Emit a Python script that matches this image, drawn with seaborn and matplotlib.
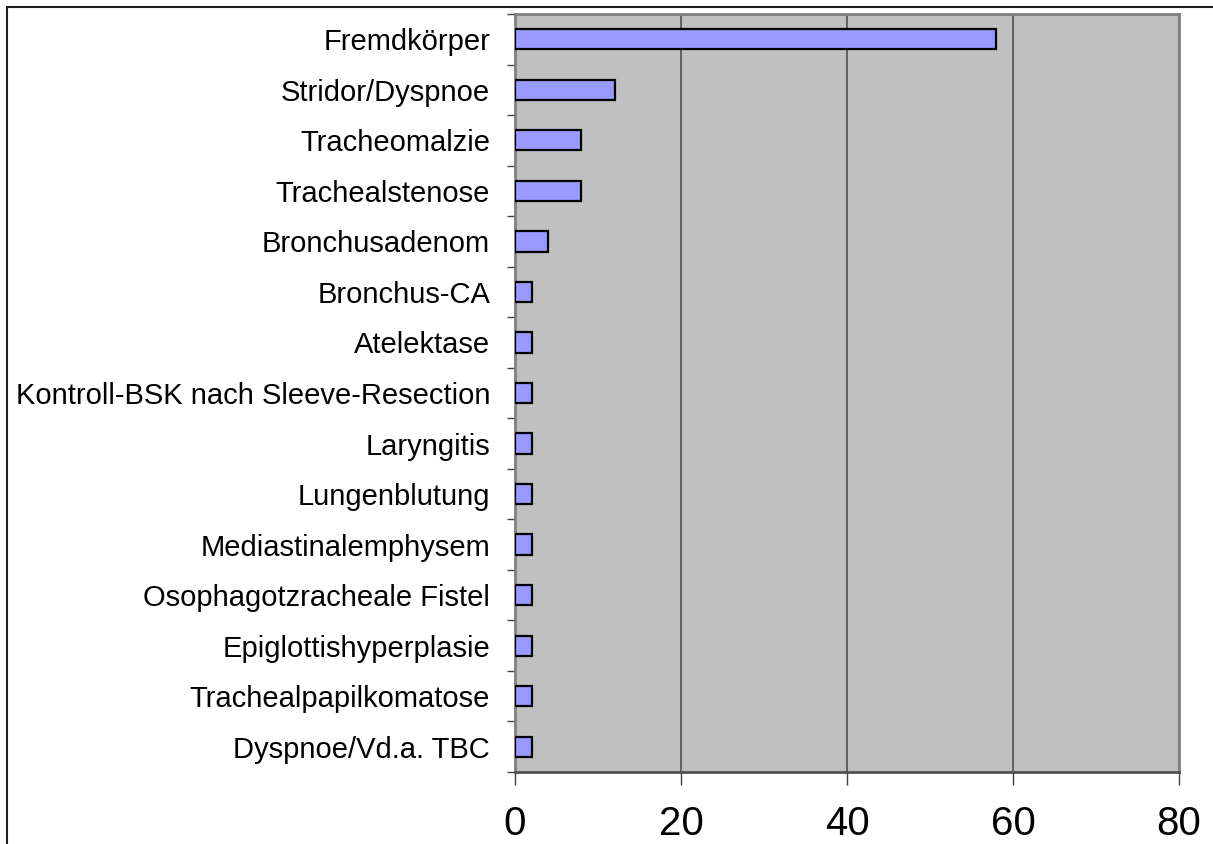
import numpy as np
import pandas as pd
import seaborn as sns
import matplotlib.pyplot as plt
from matplotlib.patches import Rectangle

categories = ['Fremdkörper', 'Stridor/Dyspnoe', 'Tracheomalzie', 'Trachealstenose',
              'Bronchusadenom', 'Bronchus-CA', 'Atelektase',
              'Kontroll-BSK nach Sleeve-Resection', 'Laryngitis', 'Lungenblutung',
              'Mediastinalemphysem', 'Osophagotzracheale Fistel',
              'Epiglottishyperplasie', 'Trachealpapilkomatose', 'Dyspnoe/Vd.a. TBC']
counts = [58, 12, 8, 8, 4, 2, 2, 2, 2, 2, 2, 2, 2, 2, 2]
xticks = [0, 20, 40, 60, 80]

df = pd.DataFrame({'Diagnose': categories, 'Anzahl': counts})

sns.set_style('white', {'xtick.bottom': True, 'ytick.left': True})
plt.rcParams['font.family'] = ['Liberation Sans', 'DejaVu Sans']
plt.rcParams['text.color'] = 'black'

fig = plt.figure(figsize=(12.13, 8.44), dpi=100)
ax = fig.add_axes([515 / 1213, 1 - 772 / 844, (1179 - 515) / 1213, (772 - 14) / 844])
ax.set_facecolor('#C0C0C0')

sns.barplot(data=df, x='Anzahl', y='Diagnose', orient='h', color='#9999FF',
            saturation=1, width=0.4, edgecolor='black', linewidth=1.6, ax=ax, zorder=3)

ax.set_xlim(0, 80)
ax.set_ylim(len(categories) - 0.5, -0.5)
ax.set_xticks(xticks)
ax.set_xticklabels([str(v) for v in xticks])
ax.xaxis.grid(True, color='#505050', linewidth=1.2, zorder=1)
ax.set_axisbelow(True)
ax.set_xlabel('')
ax.set_ylabel('')

ax.tick_params(axis='x', bottom=True, direction='out', length=9, width=1,
               color='#404040', pad=15, labelsize=29, labelcolor='black')
ax.tick_params(axis='y', which='major', left=True, length=0, labelsize=21,
               pad=18, labelcolor='black')
ax.set_yticks(np.arange(-0.5, len(categories), 1), minor=True)
ax.tick_params(axis='y', which='minor', left=True, direction='out', length=6,
               width=1, color='#404040')

for side in ['top', 'right', 'left', 'bottom']:
    ax.spines[side].set_color('#808080')
    ax.spines[side].set_linewidth(2)
ax.spines['bottom'].set_color('#505050')

# outer chart border
fig.patches.append(Rectangle((7 / 1213, -0.1), 1.2, 1 - 7 / 844 + 0.1,
                             transform=fig.transFigure, fill=False,
                             edgecolor='#202020', linewidth=1.5))

fig.savefig('out.png', dpi=100)
